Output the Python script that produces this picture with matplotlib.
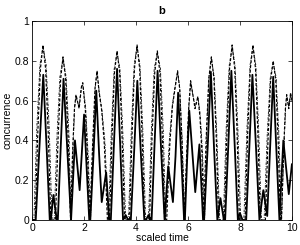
import matplotlib
matplotlib.use('Agg')
import matplotlib.pyplot as plt

plt.rcParams['font.family'] = ['Liberation Sans', 'DejaVu Sans']

# solid curve: (time, concurrence)
t_solid = [0.00, 0.14, 0.28, 0.43, 0.56, 0.68, 0.72, 0.82, 0.95, 0.99, 1.10, 1.21, 1.36, 1.50,
           1.65, 1.83, 2.00, 2.10, 2.20, 2.24, 2.36, 2.47, 2.58, 2.68, 2.85, 2.97, 3.03, 3.15,
           3.27, 3.39, 3.50, 3.60, 3.70, 3.80, 3.93, 4.05, 4.18, 4.32, 4.38, 4.48, 4.58, 4.60,
           4.71, 4.83, 4.96, 5.10, 5.24, 5.42, 5.52, 5.62, 5.74, 5.85, 5.88, 5.96, 6.05, 6.28,
           6.44, 6.58, 6.62, 6.76, 6.88, 7.00, 7.13, 7.25, 7.38, 7.43, 7.55, 7.67, 7.80, 7.92,
           8.00, 8.10, 8.24, 8.36, 8.48, 8.62, 8.75, 8.90, 9.05, 9.16, 9.28, 9.40, 9.52, 9.67,
           9.88, 10.0]
c_solid = [0.00, 0.00, 0.36, 0.73, 0.36, 0.00, 0.00, 0.126, 0.00, 0.00, 0.36, 0.71, 0.34, 0.00,
           0.40, 0.15, 0.53, 0.26, 0.00, 0.00, 0.32, 0.65, 0.33, 0.09, 0.24, 0.00, 0.00, 0.38,
           0.76, 0.38, 0.00, 0.025, 0.00, 0.00, 0.35, 0.70, 0.35, 0.00, 0.00, 0.025, 0.00, 0.00,
           0.37, 0.75, 0.37, 0.00, 0.27, 0.09, 0.32, 0.64, 0.32, 0.00, 0.00, 0.28, 0.55, 0.14,
           0.38, 0.00, 0.00, 0.37, 0.745, 0.37, 0.00, 0.11, 0.00, 0.00, 0.37, 0.75, 0.37, 0.00,
           0.035, 0.00, 0.00, 0.36, 0.73, 0.36, 0.00, 0.15, 0.02, 0.36, 0.72, 0.36, 0.00, 0.40,
           0.13, 0.28]

# dashed curve
t_dash = [0.00, 0.12, 0.22, 0.32, 0.42, 0.52, 0.62, 0.72, 0.90, 1.00, 1.10, 1.19, 1.29, 1.39,
          1.48, 1.56, 1.63, 1.69, 1.81, 1.90, 1.95, 2.05, 2.14, 2.22, 2.33, 2.42, 2.50, 2.58,
          2.68, 2.78, 2.90, 2.98, 3.08, 3.17, 3.27, 3.37, 3.46, 3.56, 3.75, 3.85, 3.94, 4.04,
          4.14, 4.23, 4.33, 4.52, 4.62, 4.72, 4.82, 4.92, 5.01, 5.10, 5.18, 5.30, 5.40, 5.50,
          5.60, 5.68, 5.77, 5.86, 5.94, 6.03, 6.10, 6.20, 6.27, 6.38, 6.46, 6.54, 6.60, 6.70,
          6.80, 6.90, 7.00, 7.09, 7.18, 7.40, 7.50, 7.60, 7.70, 7.80, 7.89, 7.98, 8.20, 8.30,
          8.40, 8.50, 8.60, 8.69, 8.78, 8.98, 9.08, 9.18, 9.28, 9.38, 9.47, 9.56, 9.60, 9.68,
          9.75, 9.80, 9.88, 9.95, 10.0]
c_dash = [0.00, 0.00, 0.44, 0.76, 0.88, 0.76, 0.44, 0.00, 0.00, 0.41, 0.71, 0.82, 0.71, 0.41,
          0.00, 0.35, 0.56, 0.63, 0.56, 0.67, 0.69, 0.55, 0.30, 0.00, 0.38, 0.66, 0.75, 0.64,
          0.55, 0.38, 0.00, 0.00, 0.43, 0.74, 0.85, 0.74, 0.43, 0.00, 0.00, 0.44, 0.76, 0.88,
          0.76, 0.44, 0.00, 0.00, 0.43, 0.74, 0.85, 0.74, 0.43, 0.00, 0.00, 0.38, 0.57, 0.66,
          0.75, 0.66, 0.38, 0.00, 0.30, 0.57, 0.70, 0.62, 0.56, 0.62, 0.52, 0.33, 0.00, 0.41,
          0.71, 0.82, 0.71, 0.41, 0.00, 0.00, 0.44, 0.76, 0.88, 0.76, 0.44, 0.00, 0.00, 0.44,
          0.76, 0.88, 0.76, 0.44, 0.00, 0.00, 0.40, 0.70, 0.80, 0.70, 0.40, 0.00, 0.00, 0.35,
          0.56, 0.63, 0.56, 0.64, 0.60]

# dash-dot curve
t_dd = [0.00, 0.07, 0.18, 0.30, 0.42, 0.54, 0.66, 0.77, 0.85, 0.96, 1.07, 1.19, 1.31, 1.42,
        1.50, 1.58, 1.64, 1.69, 1.80, 1.90, 1.95, 2.06, 2.16, 2.25, 2.35, 2.43, 2.50, 2.58,
        2.68, 2.80, 2.94, 3.05, 3.16, 3.27, 3.38, 3.49, 3.60, 3.71, 3.82, 3.93, 4.04, 4.15,
        4.26, 4.37, 4.48, 4.59, 4.70, 4.82, 4.94, 5.05, 5.14, 5.28, 5.40, 5.50, 5.60, 5.68,
        5.78, 5.88, 5.96, 6.04, 6.11, 6.20, 6.28, 6.38, 6.47, 6.56, 6.64, 6.72, 6.81, 6.90,
        7.01, 7.11, 7.22, 7.36, 7.47, 7.59, 7.70, 7.81, 7.92, 8.03, 8.15, 8.27, 8.39, 8.50,
        8.61, 8.72, 8.83, 8.93, 9.05, 9.17, 9.28, 9.39, 9.50, 9.60, 9.70, 9.76, 9.80, 9.88,
        9.95, 10.0]
c_dd = [0.00, 0.00, 0.46, 0.78, 0.87, 0.78, 0.46, 0.00, 0.00, 0.43, 0.72, 0.81, 0.72, 0.43,
        0.00, 0.38, 0.57, 0.62, 0.57, 0.67, 0.68, 0.57, 0.32, 0.00, 0.40, 0.67, 0.74, 0.65,
        0.56, 0.40, 0.00, 0.45, 0.76, 0.84, 0.76, 0.45, 0.00, 0.00, 0.46, 0.78, 0.87, 0.78,
        0.46, 0.00, 0.00, 0.45, 0.76, 0.84, 0.76, 0.45, 0.00, 0.40, 0.58, 0.67, 0.74, 0.67,
        0.40, 0.00, 0.32, 0.58, 0.69, 0.62, 0.57, 0.62, 0.53, 0.34, 0.00, 0.43, 0.72, 0.81,
        0.72, 0.43, 0.00, 0.00, 0.46, 0.78, 0.87, 0.78, 0.46, 0.00, 0.00, 0.46, 0.78, 0.87,
        0.78, 0.46, 0.00, 0.00, 0.43, 0.72, 0.79, 0.72, 0.43, 0.00, 0.38, 0.57, 0.62, 0.57,
        0.63, 0.60]

x_ticks = [0, 2, 4, 6, 8, 10]
y_ticks = [0, 0.2, 0.4, 0.6, 0.8, 1]
y_ticklabels = ['0', '0.2', '0.4', '0.6', '0.8', '1']

fig = plt.figure(figsize=(3.0, 2.45), dpi=100)
ax = fig.add_axes([0.107, 0.102, 0.866, 0.812])

ax.plot(t_dd, c_dd, color='k', linewidth=0.6, linestyle=(0, (3, 1.5, 0.8, 1.5)))
ax.plot(t_dash, c_dash, color='k', linewidth=0.85, linestyle=(0, (2.5, 1.5)))
ax.plot(t_solid, c_solid, color='k', linestyle='-', linewidth=1.3)

ax.set_xlim(0, 10)
ax.set_ylim(0, 1)
ax.set_xticks(x_ticks)
ax.set_xticklabels([str(v) for v in x_ticks])
ax.set_yticks(y_ticks)
ax.set_yticklabels(y_ticklabels)
ax.tick_params(direction='in', length=3, width=0.5, labelsize=7.5, pad=2,
               top=True, right=True)
for s in ax.spines.values():
    s.set_linewidth(0.6)

ax.set_xlabel('scaled time', fontsize=7.5, labelpad=0)
ax.set_ylabel('concurrence', fontsize=7.5, labelpad=2)
ax.set_title('b', fontsize=8, fontweight='bold', pad=5)

fig.savefig('out.png', dpi=100)
